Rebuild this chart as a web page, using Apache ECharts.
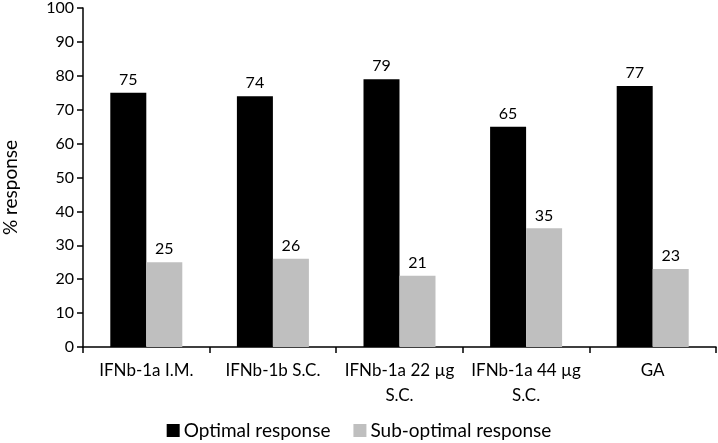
<!DOCTYPE html>
<html>
<head>
<meta charset="utf-8">
<script src="https://cdn.jsdelivr.net/npm/echarts@6/dist/echarts.min.js"></script>
<style>
  html, body { margin: 0; padding: 0; background: #fff; }
  #chart { width: 718px; height: 443px; }
</style>
</head>
<body>
<div id="chart"></div>
<script>
var categories = ['IFNb-1a I.M.', 'IFNb-1b S.C.', 'IFNb-1a 22 µg\nS.C.', 'IFNb-1a 44 µg\nS.C.', 'GA'];
var optimal = [75, 74, 79, 65, 77];
var subOptimal = [25, 26, 21, 35, 23];
var yTicks = { min: 0, max: 100, interval: 10 };

// Calibri look-alike (Carlito is built on Lato)
var font = 'Lato, "Open Sans", sans-serif';

function init() {
    var chart = echarts.init(document.getElementById('chart'));
    chart.setOption({
        animation: false,
        textStyle: { fontFamily: font, color: '#000' },
        grid: { left: 83, right: 2, top: 8, bottom: 96, containLabel: false, outerBoundsMode: 'none' },
        legend: {
            top: 421,
            left: 'center',
            padding: 0,
            itemWidth: 13,
            itemHeight: 13,
            itemGap: 23,
            icon: 'rect',
            textStyle: { fontFamily: font, fontSize: 19, color: '#000', padding: [0, 0, 0, -1] },
            data: ['Optimal response', 'Sub-optimal response']
        },
        xAxis: {
            type: 'category',
            data: categories,
            axisLine: { lineStyle: { color: '#000', width: 1.5 } },
            axisTick: { show: true, alignWithLabel: false, length: 6, lineStyle: { color: '#000', width: 1.5 } },
            axisLabel: { color: '#000', fontSize: 17, fontFamily: font, margin: 11, lineHeight: 25, interval: 0 }
        },
        yAxis: {
            type: 'value',
            min: yTicks.min,
            max: yTicks.max,
            interval: yTicks.interval,
            name: '% response',
            nameLocation: 'middle',
            nameGap: 63,
            nameTextStyle: { fontSize: 19, color: '#000', fontFamily: font, padding: [0, 20, 0, 0] },
            splitLine: { show: false },
            axisLine: { show: true, lineStyle: { color: '#000', width: 1.5 } },
            axisTick: { show: true, length: 6, lineStyle: { color: '#000', width: 1.5 } },
            axisLabel: { color: '#000', fontSize: 16, fontFamily: font, margin: 9 }
        },
        series: [
            {
                name: 'Optimal response',
                type: 'bar',
                data: optimal,
                barWidth: 36,
                barGap: '0%',
                itemStyle: { color: '#000' },
                label: { show: true, position: 'top', distance: 5, color: '#000', fontSize: 16, fontFamily: font }
            },
            {
                name: 'Sub-optimal response',
                type: 'bar',
                data: subOptimal,
                barWidth: 36,
                barGap: '0%',
                itemStyle: { color: '#bfbfbf' },
                label: { show: true, position: 'top', distance: 5, color: '#000', fontSize: 16, fontFamily: font }
            }
        ]
    });
}

init();
</script>
</body>
</html>
